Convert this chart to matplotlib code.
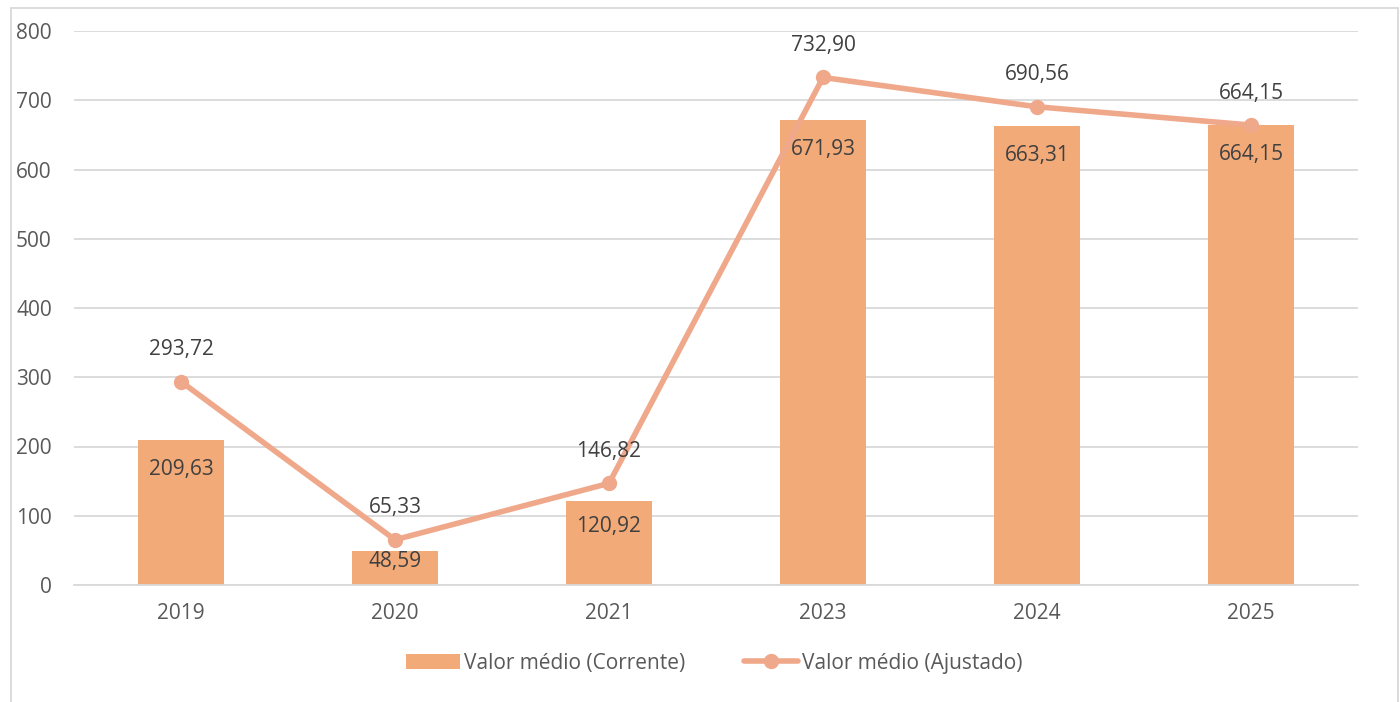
import matplotlib
matplotlib.use("Agg")
import matplotlib.pyplot as plt
from matplotlib.patches import Rectangle

plt.rcParams['font.family'] = ['Open Sans', 'DejaVu Sans']

anos = ["2019", "2020", "2021", "2023", "2024", "2025"]
corrente = [209.63, 48.59, 120.92, 671.93, 663.31, 664.15]
ajustado = [293.72, 65.33, 146.82, 732.90, 690.56, 664.15]
yticks = [0, 100, 200, 300, 400, 500, 600, 700, 800]

cor_barra = "#F2AA78"
cor_linha = "#F0A88B"

def fmt(v):
    return f"{v:.2f}".replace(".", ",")

fig = plt.figure(figsize=(14, 7.02), dpi=100)
ax = fig.add_axes([74/1400, 1-585/702, (1358-74)/1400, (585-31)/702])

x = list(range(len(anos)))
barras = ax.bar(x, corrente, width=0.4, color=cor_barra, zorder=2, label="Valor médio (Corrente)")
linha, = ax.plot(x, ajustado, color=cor_linha, lw=4, marker="o", ms=10, zorder=3,
                 solid_capstyle="round", label="Valor médio (Ajustado)")

for i in x:
    # rotulo dentro da barra, limitado para barras baixas
    desloc = min(43, corrente[i] * 0.3)
    ax.text(i, corrente[i] - desloc, fmt(corrente[i]), ha="center", va="center",
            fontsize=15, color="#404040", zorder=4)
    ax.annotate(fmt(ajustado[i]), (i, ajustado[i]), xytext=(0, 23), textcoords="offset points",
                ha="center", va="center", fontsize=15, color="#404040", zorder=4)

ax.set_xlim(-0.5, len(anos) - 0.5)
ax.set_ylim(0, 800)
ax.set_yticks(yticks)
ax.set_xticks(x)
ax.set_xticklabels(anos)
ax.grid(axis="y", color="#D9D9D9", lw=1.3, zorder=0)
for s in ["top", "right", "left"]:
    ax.spines[s].set_visible(False)
ax.spines["bottom"].set_color("#D9D9D9")
ax.spines["bottom"].set_linewidth(1.3)
ax.tick_params(axis="both", length=0, labelsize=15, colors="#595959")
ax.tick_params(axis="x", pad=13)
ax.tick_params(axis="y", pad=16)

fig.legend([barras, linha], ["Valor médio (Corrente)", "Valor médio (Ajustado)"],
           loc="center", bbox_to_anchor=(0.51, 1-663/702), ncol=2, frameon=False,
           fontsize=15, labelcolor="#595959", handlelength=2.6, columnspacing=2.8,
           handletextpad=0.2)

fig.patches.append(Rectangle((11/1400, -0.1), (1398-11)/1400, 1.1-8/702, transform=fig.transFigure,
                             fill=False, edgecolor="#D9D9D9", lw=1.3))

fig.savefig("out.png", dpi=100)
